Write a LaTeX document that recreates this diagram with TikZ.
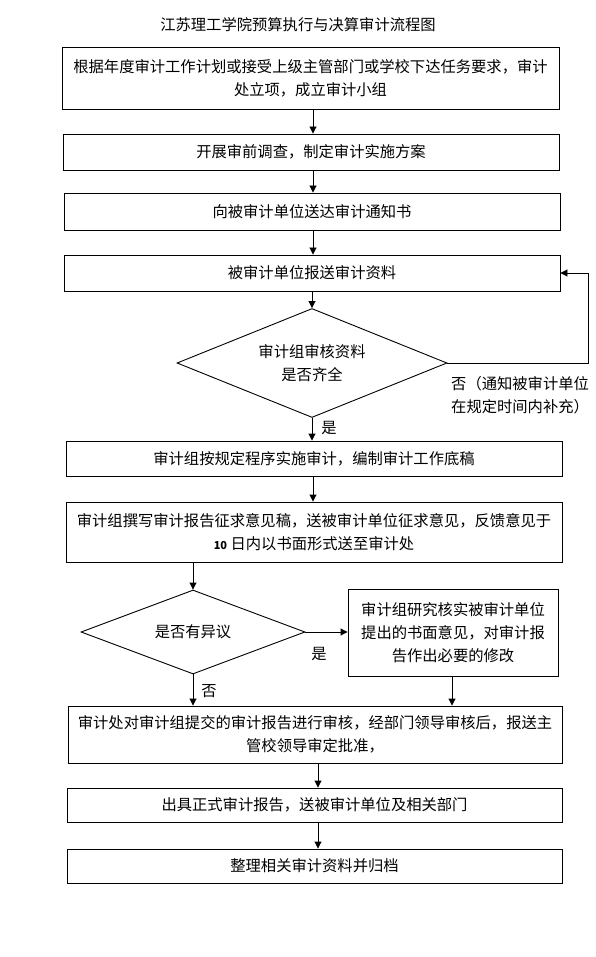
\documentclass[tikz,border=0pt]{standalone}
\usepackage{fontspec}
\setmainfont{Noto Sans CJK SC}
\usetikzlibrary{shapes.geometric,arrows.meta}
\begin{document}
\begin{tikzpicture}[x=1pt,y=-1pt,
  every node/.style={font=\fontsize{15.3}{23}\selectfont, inner sep=0pt},
  box/.style={draw, line width=0.9pt, rectangle, align=center},
  dia/.style={draw, line width=0.9pt, diamond, align=center},
  arr/.style={line width=0.9pt, -{Triangle[length=7pt,width=7pt]}},
  lab/.style={align=left}]
\useasboundingbox (0,0) rectangle (595,957);
\node (title) at (298,25) {江苏理工学院预算执行与决算审计流程图};
\node[box, minimum width=497, minimum height=62] (b1) at (310.5,78)
  {根据年度审计工作计划或接受上级主管部门或学校下达任务要求，审计\\处立项，成立审计小组};
\node[box, minimum width=496, minimum height=36] (b2) at (311,152) {开展审前调查，制定审计实施方案};
\node[box, minimum width=496, minimum height=37] (b3) at (312,211.5) {向被审计单位送达审计通知书};
\node[box, minimum width=496, minimum height=36] (b4) at (312,273) {被审计单位报送审计资料};
\node[dia, shape aspect=2.48, minimum width=270, minimum height=109] (d1) at (312,363) {审计组审核资料\\是否齐全};
\node[box, minimum width=496, minimum height=35] (b5) at (314,458.5) {审计组按规定程序实施审计，编制审计工作底稿};
\node[box, minimum width=496, minimum height=60] (b6) at (314,532)
  {审计组撰写审计报告征求意见稿，送被审计单位征求意见，反馈意见于\\{\bfseries\fontsize{11}{23}\selectfont 10} 日内以书面形式送至审计处};
\node[dia, shape aspect=2.67, minimum width=224, minimum height=84] (d2) at (193,632) {是否有异议};
\node[box, minimum width=210, minimum height=87] (s) at (453,632.5)
  {审计组研究核实被审计单位\\提出的书面意见，对审计报\\告作出必要的修改};
\node[box, minimum width=494, minimum height=57] (b7) at (315,734.5)
  {审计处对审计组提交的审计报告进行审核，经部门领导审核后，报送主\\管校领导审定批准，};
\node[box, minimum width=495, minimum height=34] (b8) at (314.5,805) {出具正式审计报告，送被审计单位及相关部门};
\node[box, minimum width=495, minimum height=34] (b9) at (314.5,866) {整理相关审计资料并归档};
\coordinate (fb) at (588,273);
\node[lab, anchor=north west] (nolab) at (451,376) {否（通知被审计单位\\在规定时间内补充）};
\node (yes1) at (329,428) {是};
\node (yes2) at (319,654) {是};
\node (no2) at (209,691) {否};
\draw[arr] (b1.south -| 313,0) -- (b2.north -| 313,0);
\draw[arr] (b2.south -| 313,0) -- (b3.north -| 313,0);
\draw[arr] (b3.south -| 313,0) -- (b4.north -| 313,0);
\draw[arr] (b4.south -| d1.north) -- (d1.north);
\draw[arr] (d1.east) -| (fb) -- (b4.east);
\draw[arr] (d1.south) -- (d1.south |- b5.north);
\draw[arr] (b5.south -| 313,0) -- (b6.north -| 313,0);
\draw[arr] (d2.north |- b6.south) -- (d2.north);
\draw[arr] (d2.east) -- (s.west |- d2.east);
\draw[arr] (d2.south) -- (d2.south |- b7.north);
\draw[arr] (s.south -| 452,0) -- (b7.north -| 452,0);
\draw[arr] (b7.south -| 318,0) -- (b8.north -| 318,0);
\draw[arr] (b8.south -| 318,0) -- (b9.north -| 318,0);
\end{tikzpicture}
\end{document}
